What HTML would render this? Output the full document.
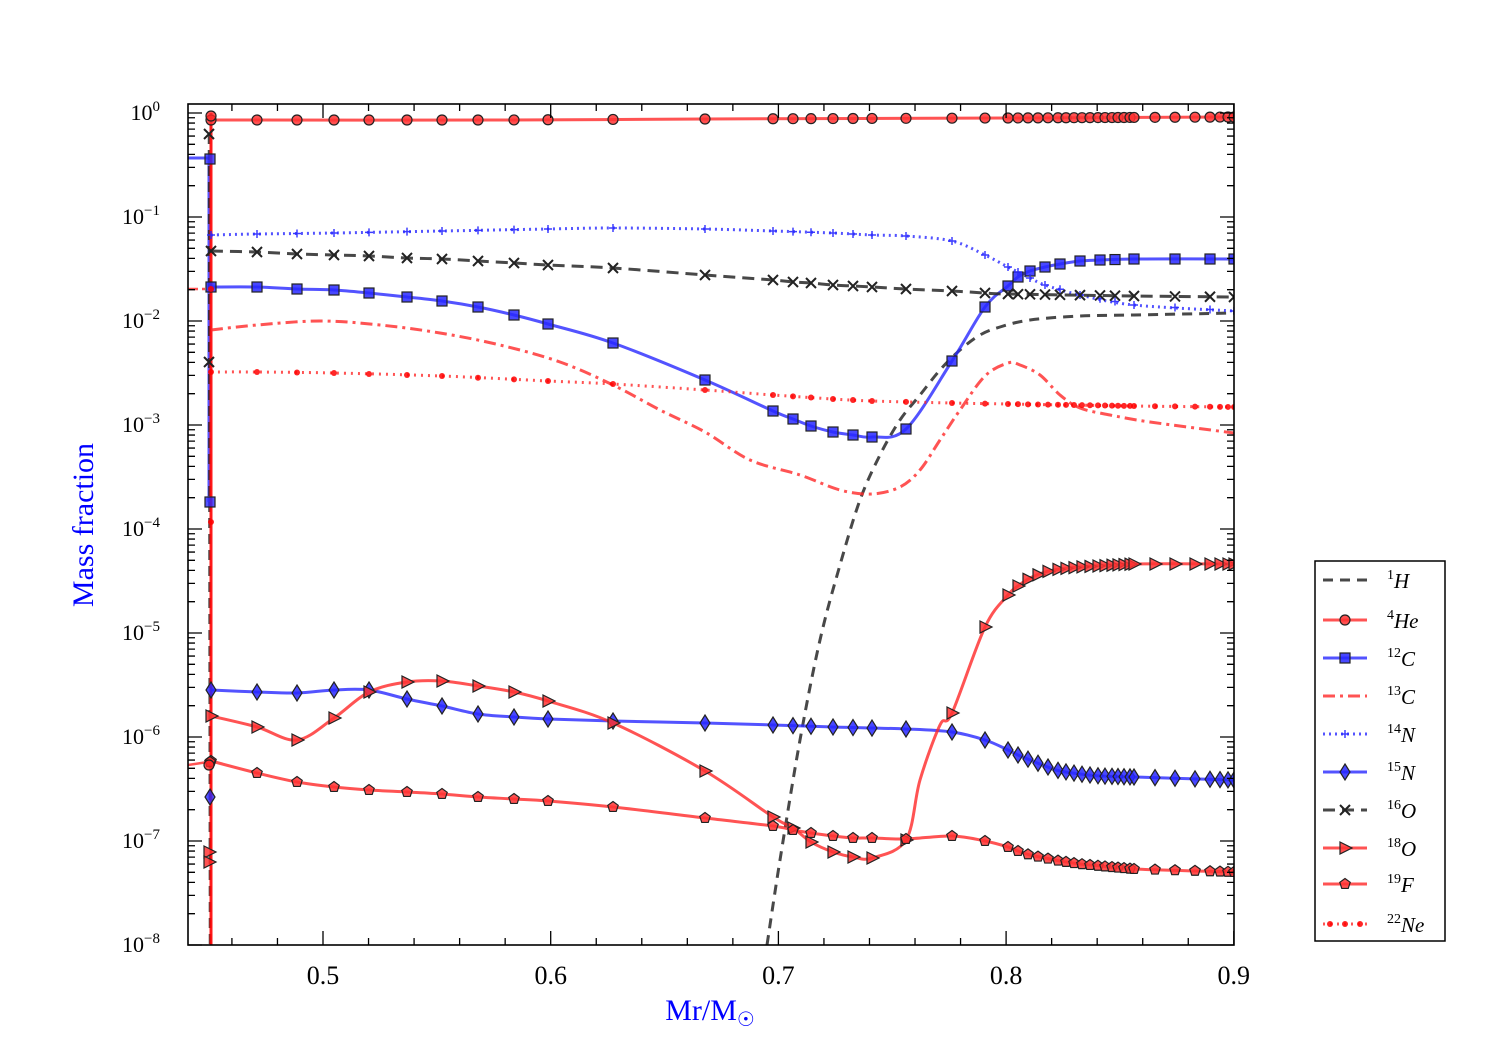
<!DOCTYPE html>
<html><head><meta charset="utf-8"><style>
html,body{margin:0;padding:0;background:#fff;}
svg{display:block;font-family:"Liberation Serif",serif;}
</style></head><body>
<svg id="s" width="1500" height="1050" xmlns="http://www.w3.org/2000/svg"></svg>
<script>
const s=document.getElementById('s');const NS='http://www.w3.org/2000/svg';
function el(t,a,p){const e=document.createElementNS(NS,t);for(const k in a)e.setAttribute(k,a[k]);(p||s).appendChild(e);return e;}
const L=188,R=1234,T=104,B=945;
const clip=el('clipPath',{id:'c'});el('rect',{x:L,y:T,width:R-L,height:B-T},clip);
const g=el('g',{'clip-path':'url(#c)'});
const RED='rgba(255,40,40,0.8)',BLUE='rgba(40,40,255,0.8)',DARK='rgba(40,40,40,0.85)';
function smooth(p){let d='M'+p[0][0]+','+p[0][1];for(let i=1;i<p.length;i++){const p0=p[i-2]||p[i-1],p1=p[i-1],p2=p[i],p3=p[i+1]||p2;
d+=' C'+(p1[0]+(p2[0]-p0[0])/6)+','+(p1[1]+(p2[1]-p0[1])/6)+' '+(p2[0]-(p3[0]-p1[0])/6)+','+(p2[1]-(p3[1]-p1[1])/6)+' '+p2[0]+','+p2[1];}return d;}
function interp(p,x){for(let i=1;i<p.length;i++)if(x<=p[i][0]){const t=(x-p[i-1][0])/(p[i][0]-p[i-1][0]);return p[i-1][1]+t*(p[i][1]-p[i-1][1]);}return p[p.length-1][1];}
function marker(type,x,y,fill,par){const st={fill:fill,stroke:'#222','stroke-width':1.2};
 if(type=='o')el('circle',Object.assign({cx:x,cy:y,r:5},st),par);
 else if(type=='s')el('rect',Object.assign({x:x-5,y:y-5,width:10,height:10},st),par);
 else if(type=='d')el('polygon',Object.assign({points:`${x},${y-8} ${x+5},${y} ${x},${y+8} ${x-5},${y}`},st),par);
 else if(type=='>')el('polygon',Object.assign({points:`${x-5},${y-6} ${x+7},${y} ${x-5},${y+6}`},st),par);
 else if(type=='p'){let pts=[];for(let i=0;i<5;i++){const a=-Math.PI/2+i*2*Math.PI/5;pts.push((x+5.5*Math.cos(a))+','+(y+5.5*Math.sin(a)));}el('polygon',Object.assign({points:pts.join(' ')},st),par);}
 else if(type=='x'){el('path',{d:`M${x-5},${y-5}L${x+5},${y+5}M${x-5},${y+5}L${x+5},${y-5}`,stroke:'#222','stroke-width':2},par);}
 else if(type=='+'){el('path',{d:`M${x-4},${y}L${x+4},${y}M${x},${y-4}L${x},${y+4}`,stroke:fill,'stroke-width':1.5},par);}
 else if(type=='.')el('circle',{cx:x,cy:y,r:3,fill:'rgba(255,0,0,0.85)'},par);}
const MX=[211,257,297,334,369,407,442,478,514,548,613,705,773,793,811,833,853,872,906,952,985,1008,1018,1028,1038,1048,1058,1066,1074,1082,1090,1098,1105,1112,1118,1124,1130,1134,1155,1175,1195,1210,1220,1228,1234];
const MX2=[211,257,297,334,369,407,442,478,514,548,613,705,773,793,811,833,853,872,906,952,985,1008,1018,1030,1045,1060,1080,1100,1115,1134,1175,1210,1234];
const series=[
 {c:DARK,dash:'10,7',m:null,p:[[767,945],[780,860],[800,740],[820,640],[840,565],[860,500],[880,455],[900,420],[920,395],[940,370],[960,350],[980,335],[1000,327],[1030,320],[1080,316],[1134,315],[1234,313]]},
 {c:RED,dash:null,m:'o',mx:MX,p:[[211,120],[500,120],[705,119],[1008,118],[1234,117]]},
 {c:BLUE,dash:null,m:'s',mx:MX2,p:[[211,287],[257,287],[297,289],[334,290],[369,293],[407,297],[442,301],[478,307],[514,315],[548,324],[613,343],[705,380],[773,411],[793,419],[811,426],[833,432],[853,435],[872,437],[906,429],[952,361],[985,307],[1008,286],[1018,277],[1030,271],[1045,267],[1060,264],[1080,261],[1100,260],[1134,259],[1234,259]]},
 {c:RED,dash:'12,5,3,5',m:null,p:[[211,330],[257,325],[320,321],[380,325],[440,333],[500,345],[560,362],[613,385],[660,410],[705,432],[750,460],[800,475],[840,490],[872,494],[900,487],[920,470],[940,440],[960,410],[985,376],[1008,363],[1020,365],[1040,375],[1060,395],[1080,408],[1110,415],[1150,422],[1234,433]]},
 {c:BLUE,dash:'2,4',m:'+',mx:MX2,p:[[211,235],[257,234],[334,233],[442,231],[548,229],[613,228],[705,229],[773,231],[833,233],[872,235],[906,236],[952,241],[985,255],[1008,267],[1030,278],[1045,285],[1080,295],[1134,305],[1234,311]]},
 {c:BLUE,dash:null,m:'d',mx:MX,p:[[211,690],[257,692],[297,693],[334,690],[369,690],[407,699],[442,706],[478,714],[514,717],[548,719],[613,721],[705,723],[773,725],[833,727],[906,729],[952,732],[985,740],[1008,750],[1018,755],[1030,760],[1045,766],[1060,771],[1080,774],[1100,776],[1134,777],[1234,780]]},
 {c:DARK,dash:'12,7',m:'x',mx:MX2,p:[[211,251],[257,252],[297,254],[334,255],[369,256],[407,258],[442,259],[478,261],[514,263],[548,265],[613,268],[705,275],[773,280],[793,282],[811,283],[833,285],[853,286],[872,287],[906,289],[952,291],[985,293],[1008,294],[1134,296],[1234,297]]},
 {c:RED,dash:null,m:'>',mx:MX,p:[[211,716],[257,727],[297,740],[334,718],[369,692],[407,682],[442,681],[478,686],[514,692],[548,701],[613,723],[705,771],[773,817],[793,828],[811,842],[833,852],[853,857],[872,858],[906,840],[920,780],[940,725],[952,713],[985,627],[1008,595],[1018,586],[1030,578],[1045,572],[1060,569],[1080,567],[1134,564],[1234,564]]},
 {c:RED,dash:null,m:'p',mx:MX,p:[[211,761],[257,773],[297,782],[334,787],[369,790],[407,792],[442,794],[478,797],[514,799],[548,801],[613,807],[705,818],[773,826],[793,830],[811,833],[833,836],[853,838],[872,838],[906,839],[952,836],[985,841],[1008,847],[1018,851],[1030,855],[1045,858],[1060,861],[1080,864],[1100,866],[1134,869],[1234,872]]},
 {c:RED,dash:'2,5',m:'.',mx:MX,p:[[211,372],[257,372],[334,373],[442,376],[548,381],[613,384],[705,390],[773,395],[833,399],[872,401],[952,403],[1008,404],[1134,406],[1234,407]]}
];
// left stubs and vertical lines at x~211
el('path',{d:'M188,158L209,158L209,502',stroke:BLUE,'stroke-width':3,fill:'none'},g);
el('path',{d:'M188,289L208,289',stroke:RED,'stroke-width':2.5,'stroke-dasharray':'10,4,3,4',fill:'none'},g);
el('path',{d:'M188,765L208,762',stroke:RED,'stroke-width':2.5,fill:'none'},g);
el('path',{d:'M209,134L210,945',stroke:DARK,'stroke-width':2.5,'stroke-dasharray':'10,6',fill:'none'},g);
el('path',{d:'M211,113L211,945',stroke:'rgba(255,0,0,0.9)','stroke-width':3,fill:'none'},g);
for(const S of series){const a={d:smooth(S.p),stroke:S.c,'stroke-width':3,fill:'none'};if(S.dash)a['stroke-dasharray']=S.dash;el('path',a,g);}
for(const S of series){if(!S.m)continue;const f=S.c==RED?'rgba(255,50,50,0.85)':S.c==BLUE?'rgba(40,40,255,0.85)':'#333';
 for(const x of S.mx)marker(S.m,x,interp(S.p,x),S.m=='+'?'rgba(40,40,255,0.9)':f,g);}
[[211,116,'o',RED],[210,159,'s',BLUE],[210,502,'s',BLUE],[209,134,'x',DARK],[209,362,'x',DARK],[210,797,'d',BLUE],[209,852,'>',RED],[209,862,'>',RED],[210,762,'p',RED],[209,765,'o',RED],[211,289,'.',RED],[211,522,'.',RED]].forEach(m=>marker(m[2],m[0],m[1],m[3]=='#333'?'#333':m[3],g));
// frame & ticks
el('rect',{x:L,y:T,width:R-L,height:B-T,fill:'none',stroke:'#000','stroke-width':1.6});
let tk='';
for(let d=0;d<=8;d++){const y=945-d*104;tk+=`M${L},${y}h14M${R},${y}h-14`;
 if(d<8)for(let k=2;k<=9;k++){const yy=y-Math.log10(k)*104;tk+=`M${L},${yy}h7M${R},${yy}h-7`;}}
for(let k=2;k<=9;k++){const yy=113-Math.log10(k)*104;if(yy>T)tk+=`M${L},${yy}h7M${R},${yy}h-7`;}
for(let v=0.44;v<=0.901;v+=0.02){const x=323+(v-0.5)*2277;if(x<L)continue;const maj=Math.abs(v*10-Math.round(v*10))<1e-6;const h=maj?14:7;tk+=`M${x},${B}v-${h}M${x},${T}v${h}`;}
el('path',{d:tk,stroke:'#000','stroke-width':1.3,fill:'none'});
const ylab=['10<tspan dy="-9" font-size="15">0</tspan>','10<tspan dy="-9" font-size="15">−1</tspan>'];
for(let d=0;d<=8;d++){const y=113+d*104;const t=el('text',{x:160,y:y+7,'font-size':22,'text-anchor':'end'});t.innerHTML='10<tspan dy="-9" font-size="15">'+(d==0?'0':'−'+d)+'</tspan>';}
['0.5','0.6','0.7','0.8','0.9'].forEach((l,i)=>{const t=el('text',{x:323+i*227.7,y:984,'font-size':26,'text-anchor':'middle'});t.textContent=l;});
const xl=el('text',{x:710,y:1020,'font-size':30,fill:'#0000ff','text-anchor':'middle'});xl.innerHTML='Mr/M<tspan font-size="20" dy="6">☉</tspan>';
const yl=el('text',{x:0,y:0,'font-size':30,fill:'#0000ff','text-anchor':'middle',transform:'translate(93,525) rotate(-90)'});yl.textContent='Mass fraction';
// legend
el('rect',{x:1315,y:561,width:130,height:380,fill:'#fff',stroke:'#000','stroke-width':1.5});
const leg=[['1','H',DARK,'10,7',null],['4','He',RED,null,'o'],['12','C',BLUE,null,'s'],['13','C',RED,'12,5,3,5',null],['14','N',BLUE,'2,4','+'],['15','N',BLUE,null,'d'],['16','O',DARK,'12,7','x'],['18','O',RED,null,'>'],['19','F',RED,null,'p'],['22','Ne',RED,'2,5','.']];
const ly=[580,620,658,696,734,772,810,848,884,924];
leg.forEach((e,i)=>{const y=ly[i];const a={d:`M1323,${y}H1367`,stroke:e[2],'stroke-width':3};if(e[3])a['stroke-dasharray']=e[3];el('path',a);
 if(e[4]){const f=e[2]==RED?'rgba(255,50,50,0.85)':e[2]==BLUE?'rgba(40,40,255,0.85)':'#333';if(e[4]=='.'){marker('.',1330,y,f);marker('.',1345,y,f);marker('.',1360,y,f);}else marker(e[4],1345,y,e[4]=='+'?'rgba(40,40,255,0.9)':f);}
 const t=el('text',{x:1387,y:y+8,'font-size':21});t.innerHTML=`<tspan font-size="14" dy="-9">${e[0]}</tspan><tspan dy="9" font-style="italic">${e[1]}</tspan>`;});
</script>
</body></html>
